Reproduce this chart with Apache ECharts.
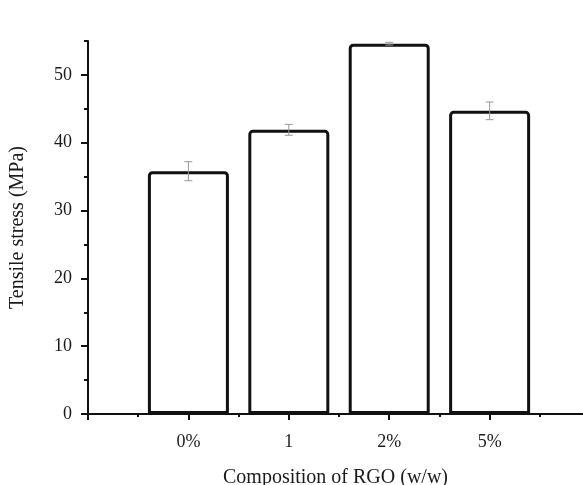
<!DOCTYPE html>
<html><head><meta charset="utf-8">
<script src="https://cdn.jsdelivr.net/npm/echarts@6/dist/echarts.min.js"></script>
<style>html,body{margin:0;padding:0;background:#fff}#c{width:583px;height:485px}</style>
</head><body><div id="c"></div>
<script>
const categories = ['0%', '1', '2%', '5%'];
const positions = [1, 2, 3, 4];
const stress = [35.8, 41.9, 54.6, 44.7];
const errors = [1.4, 0.8, 0.2, 1.3];
const yMajorTicks = [0, 10, 20, 30, 40, 50];
const yMinorTicks = [5, 15, 25, 35, 45, 55];
const xMajorTicks = [0, 1, 2, 3, 4];
const xMinorTicks = [0.5, 1.5, 2.5, 3.5, 4.5];

const font = 'Liberation Serif';
const chart = echarts.init(document.getElementById('c'));
const axisBase = {
  type: 'value', min: 0,
  splitLine: { show: false },
};
chart.setOption({
  animation: false,
  backgroundColor: '#fff',
  grid: { left: 88, right: 0, top: 41, bottom: 71, outerBoundsMode: 'none', containLabel: false },
  xAxis: [
    Object.assign({}, axisBase, {
      max: 4.93,
      axisLine: { lineStyle: { color: '#111', width: 2 } },
      axisTick: { customValues: xMajorTicks, length: 6, lineStyle: { color: '#111', width: 2 } },
      axisLabel: { customValues: positions, formatter: v => categories[positions.indexOf(v)] || '',
        color: '#1a1a1a', fontFamily: font, fontSize: 18, margin: 19 },
      name: 'Composition of RGO (w/w)', nameLocation: 'middle', nameGap: 54,
      nameTextStyle: { color: '#1a1a1a', fontFamily: font, fontSize: 20 }
    }),
    Object.assign({}, axisBase, {
      max: 4.93, position: 'bottom',
      axisLine: { show: false },
      axisTick: { customValues: xMinorTicks, length: 3, lineStyle: { color: '#111', width: 2 } },
      axisLabel: { show: false }
    })
  ],
  yAxis: [
    Object.assign({}, axisBase, {
      max: 55,
      axisLine: { show: true, lineStyle: { color: '#111', width: 2 } },
      axisTick: { show: true, customValues: yMajorTicks, length: 7, lineStyle: { color: '#111', width: 2 } },
      axisLabel: { customValues: yMajorTicks, color: '#1a1a1a', fontFamily: font, fontSize: 18, margin: 16 },
      name: 'Tensile stress (MPa)', nameLocation: 'middle', nameGap: 60,
      nameTextStyle: { color: '#1a1a1a', fontFamily: font, fontSize: 20 }
    }),
    Object.assign({}, axisBase, {
      max: 55, position: 'left',
      axisLine: { show: false },
      axisTick: { show: true, customValues: yMinorTicks, length: 4, lineStyle: { color: '#111', width: 2 } },
      axisLabel: { show: false }
    })
  ],
  series: [
    {
      type: 'bar', xAxisIndex: 0, yAxisIndex: 0,
      data: positions.map((p, i) => [p, stress[i]]),
      barWidth: 81,
      itemStyle: { color: '#fff', borderColor: '#111', borderWidth: 3, borderRadius: [3, 3, 0, 0] },
      z: 2
    },
    {
      type: 'custom', xAxisIndex: 0, yAxisIndex: 0, z: 3,
      data: positions.map((p, i) => [p, stress[i] - errors[i], stress[i] + errors[i]]),
      renderItem: function (params, api) {
        const lo = api.coord([api.value(0), api.value(1)]);
        const hi = api.coord([api.value(0), api.value(2)]);
        const w = 4;
        const st = { stroke: '#999', lineWidth: 1 };
        return { type: 'group', children: [
          { type: 'line', shape: { x1: lo[0], y1: lo[1], x2: hi[0], y2: hi[1] }, style: st },
          { type: 'line', shape: { x1: lo[0] - w, y1: lo[1], x2: lo[0] + w, y2: lo[1] }, style: st },
          { type: 'line', shape: { x1: hi[0] - w, y1: hi[1], x2: hi[0] + w, y2: hi[1] }, style: st }
        ]};
      }
    }
  ]
});
</script></body></html>
